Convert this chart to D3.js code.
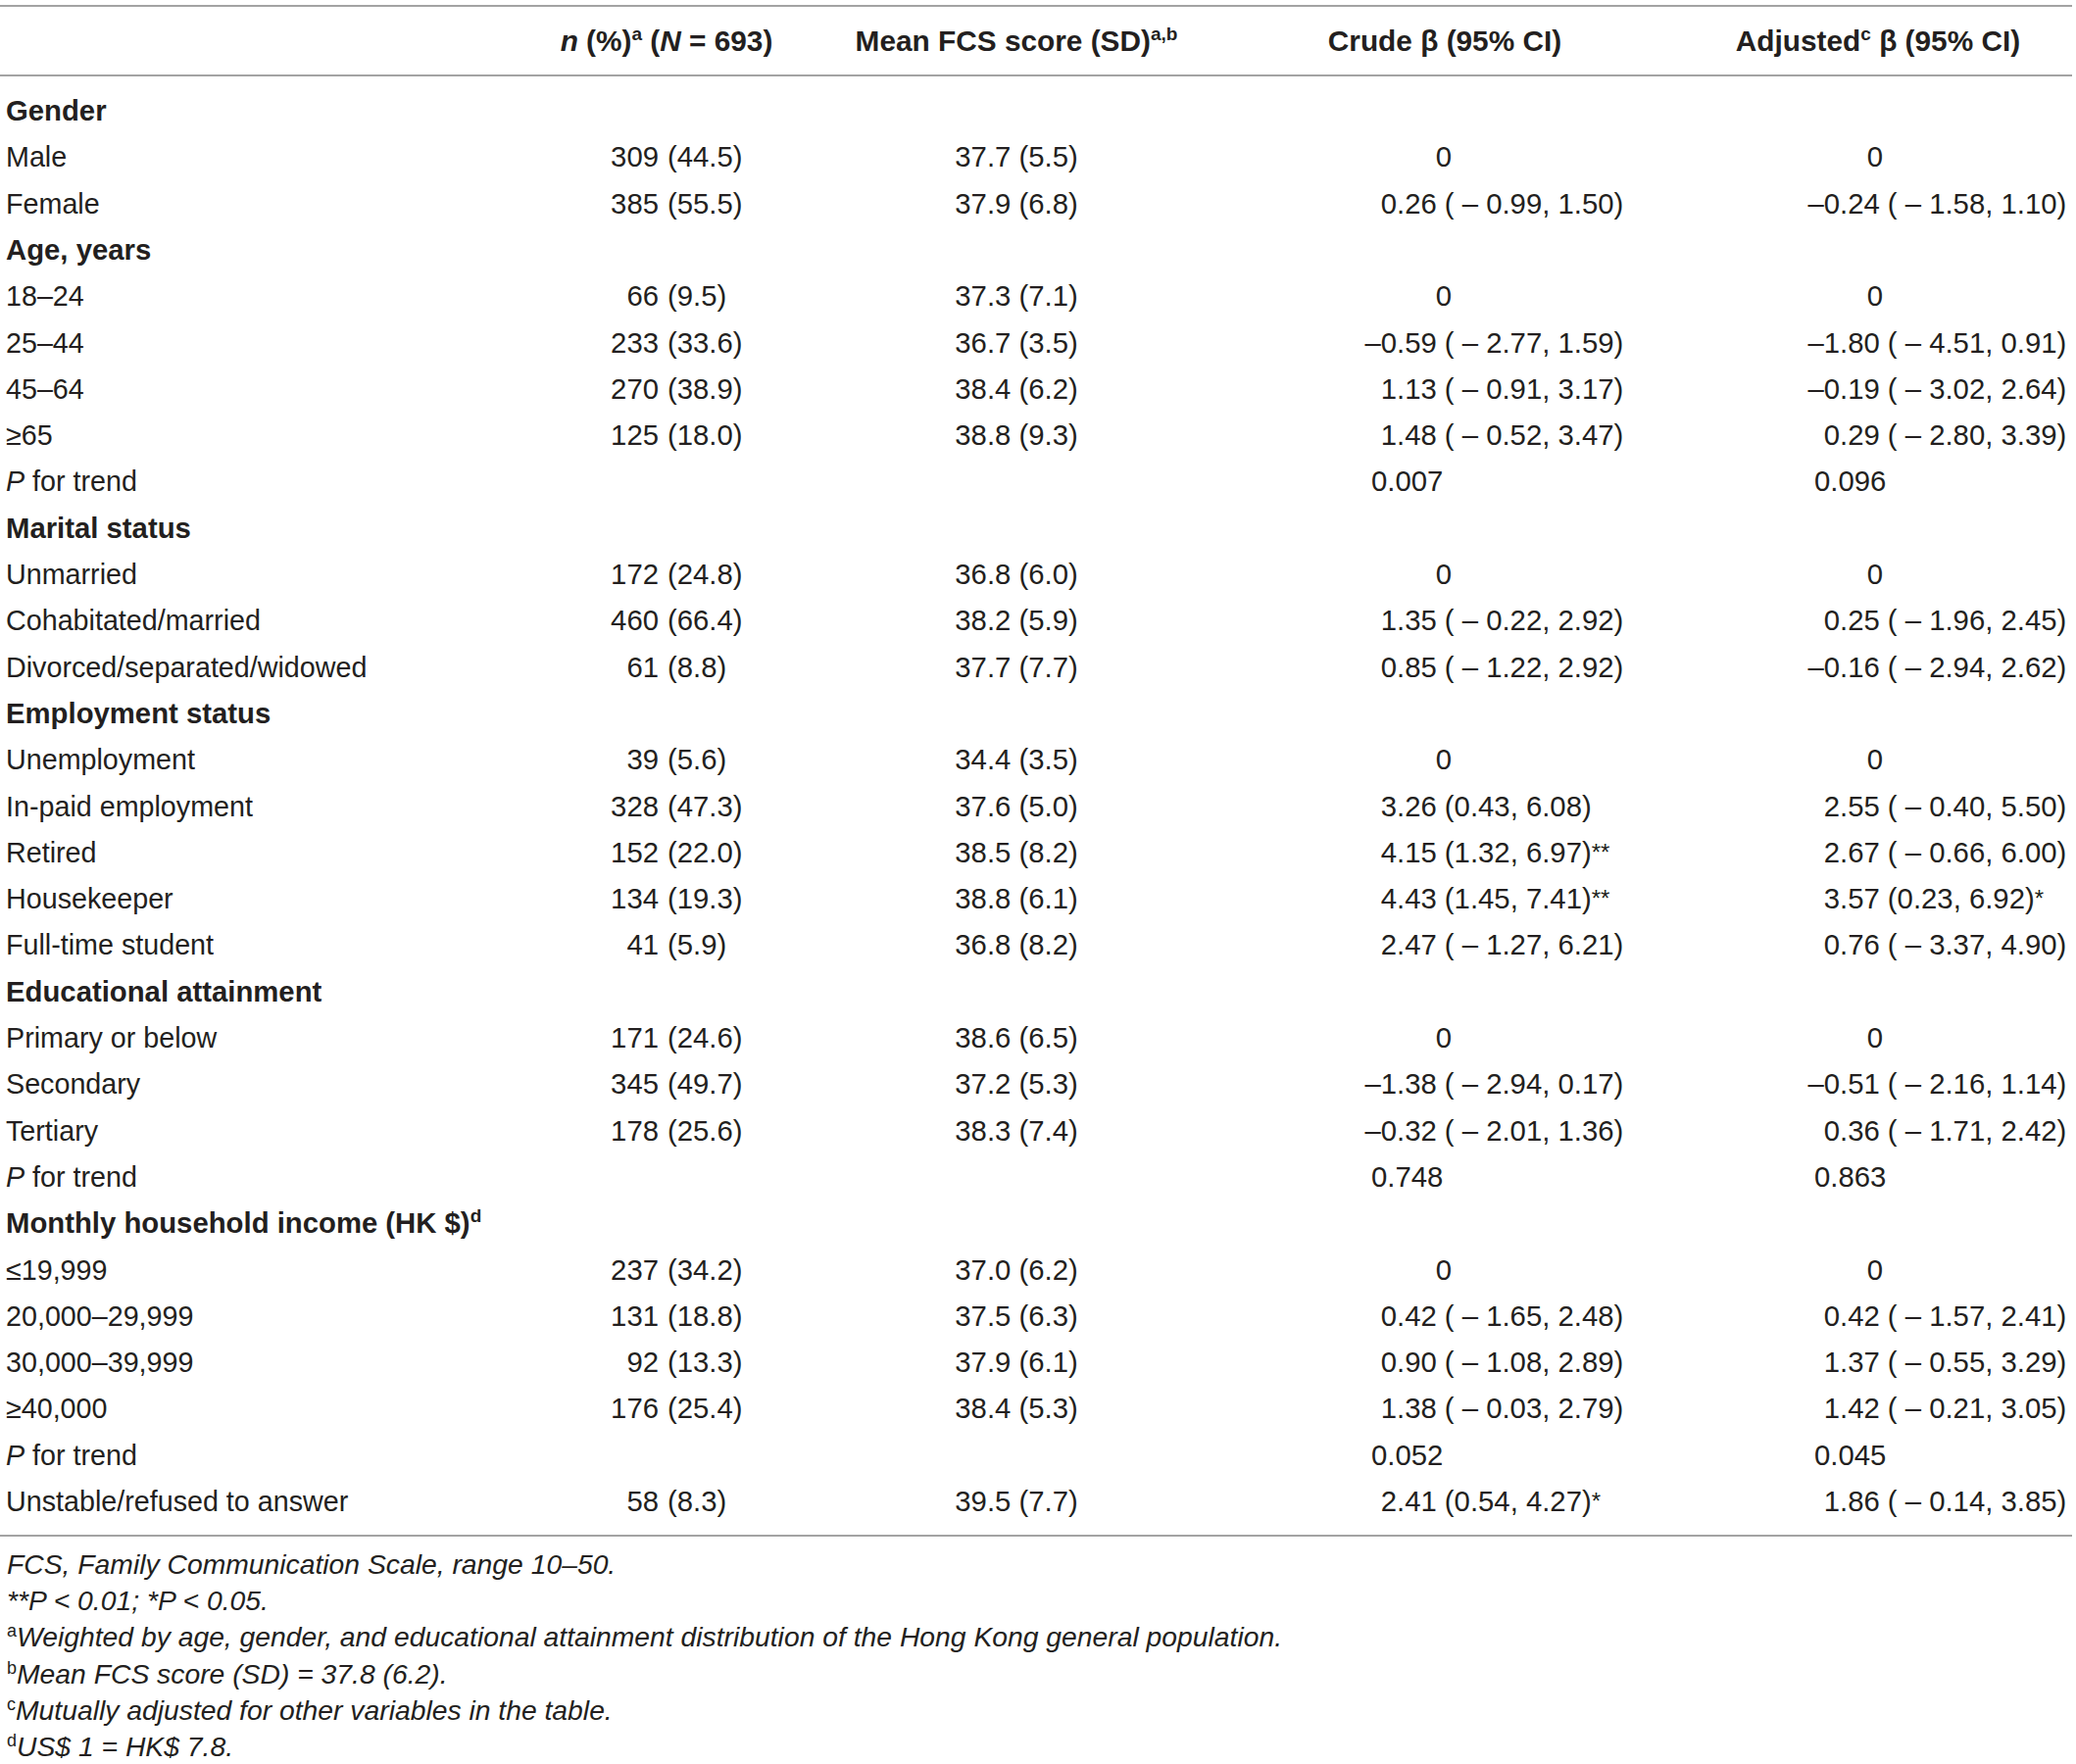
<!DOCTYPE html>
<html lang="en">
<head>
<meta charset="UTF-8">
<title>FCS score by sociodemographic characteristics</title>
<script src="https://d3js.org/d3.v7.min.js"></script>
<style>
    body { margin: 0; background: #fff; }
    svg text { font-family: "Liberation Sans", Arial, sans-serif; fill: #231f20; }
    .label { font-size: 28.7px; }
    .cell { font-size: 29.3px; }
    .bold { font-size: 29.3px; font-weight: 700; }
    .head { font-size: 29.8px; font-weight: 700; }
    .note { font-size: 28.3px; font-style: italic; }
    .rule { stroke: #a3a3a3; stroke-width: 2; }
</style>
</head>
<body>
<svg width="2118" height="1800"></svg>
<script>
    // Row labels and row kinds (s = section heading, i = item, t = P for trend)
    const rowLabels = ["Gender", "Male", "Female", "Age, years", "18–24", "25–44", "45–64", "≥65", "P for trend",
        "Marital status", "Unmarried", "Cohabitated/married", "Divorced/separated/widowed",
        "Employment status", "Unemployment", "In-paid employment", "Retired", "Housekeeper", "Full-time student",
        "Educational attainment", "Primary or below", "Secondary", "Tertiary", "P for trend",
        "Monthly household income (HK $)", "≤19,999", "20,000–29,999", "30,000–39,999", "≥40,000", "P for trend",
        "Unstable/refused to answer"];
    const rowKinds = ["s", "i", "i", "s", "i", "i", "i", "i", "t", "s", "i", "i", "i", "s", "i", "i", "i", "i", "i",
        "s", "i", "i", "i", "t", "s", "i", "i", "i", "i", "t", "i"];
    const labelNotes = { "Monthly household income (HK $)": "d" };

    // Item rows, in order
    const nCount = [309, 385, 66, 233, 270, 125, 172, 460, 61, 39, 328, 152, 134, 41, 171, 345, 178, 237, 131, 92, 176, 58];
    const nPct = [44.5, 55.5, 9.5, 33.6, 38.9, 18.0, 24.8, 66.4, 8.8, 5.6, 47.3, 22.0, 19.3, 5.9, 24.6, 49.7, 25.6, 34.2, 18.8, 13.3, 25.4, 8.3];
    const fcsMean = [37.7, 37.9, 37.3, 36.7, 38.4, 38.8, 36.8, 38.2, 37.7, 34.4, 37.6, 38.5, 38.8, 36.8, 38.6, 37.2, 38.3, 37.0, 37.5, 37.9, 38.4, 39.5];
    const fcsSD = [5.5, 6.8, 7.1, 3.5, 6.2, 9.3, 6.0, 5.9, 7.7, 3.5, 5.0, 8.2, 6.1, 8.2, 6.5, 5.3, 7.4, 6.2, 6.3, 6.1, 5.3, 7.7];

    // null lower bound = reference category
    const crudeB = [0, 0.26, 0, -0.59, 1.13, 1.48, 0, 1.35, 0.85, 0, 3.26, 4.15, 4.43, 2.47, 0, -1.38, -0.32, 0, 0.42, 0.90, 1.38, 2.41];
    const crudeLo = [null, -0.99, null, -2.77, -0.91, -0.52, null, -0.22, -1.22, null, 0.43, 1.32, 1.45, -1.27, null, -2.94, -2.01, null, -1.65, -1.08, -0.03, 0.54];
    const crudeHi = [null, 1.50, null, 1.59, 3.17, 3.47, null, 2.92, 2.92, null, 6.08, 6.97, 7.41, 6.21, null, 0.17, 1.36, null, 2.48, 2.89, 2.79, 4.27];
    const crudeSig = ["", "", "", "", "", "", "", "", "", "", "", "**", "**", "", "", "", "", "", "", "", "", "*"];

    const adjB = [0, -0.24, 0, -1.80, -0.19, 0.29, 0, 0.25, -0.16, 0, 2.55, 2.67, 3.57, 0.76, 0, -0.51, 0.36, 0, 0.42, 1.37, 1.42, 1.86];
    const adjLo = [null, -1.58, null, -4.51, -3.02, -2.80, null, -1.96, -2.94, null, -0.40, -0.66, 0.23, -3.37, null, -2.16, -1.71, null, -1.57, -0.55, -0.21, -0.14];
    const adjHi = [null, 1.10, null, 0.91, 2.64, 3.39, null, 2.45, 2.62, null, 5.50, 6.00, 6.92, 4.90, null, 1.14, 2.42, null, 2.41, 3.29, 3.05, 3.85];
    const adjSig = ["", "", "", "", "", "", "", "", "", "", "", "", "*", "", "", "", "", "", "", "", "", ""];

    // P for trend rows
    const trendCrude = [0.007, 0.748, 0.052];
    const trendAdj = [0.096, 0.863, 0.045];

    const footnotes = [
        { sup: "", text: "FCS, Family Communication Scale, range 10–50." },
        { sup: "", text: "**P < 0.01; *P < 0.05." },
        { sup: "a", text: "Weighted by age, gender, and educational attainment distribution of the Hong Kong general population." },
        { sup: "b", text: "Mean FCS score (SD) = 37.8 (6.2)." },
        { sup: "c", text: "Mutually adjusted for other variables in the table." },
        { sup: "d", text: "US$ 1 = HK$ 7.8." }
    ];

    const svg = d3.select("svg");
    const W = +svg.attr("width");

    // Row baselines and column anchors
    const y = d3.scalePoint().domain(d3.range(rowLabels.length)).range([123, 1542]);
    const headX = d3.scaleOrdinal().domain(["n", "mean", "crude", "adj"]).range([680, 1037, 1474, 1916]);
    const decX = d3.scaleOrdinal().domain(["crude", "adj"]).range([1425, 1877]);
    const refX = d3.scaleOrdinal().domain(["crude", "adj"]).range([1473, 1913]);
    const trendX = d3.scaleOrdinal().domain(["crude", "adj"]).range([1399, 1851]);
    const labelX = 6, parenX = 681;
    const noteY = d3.scaleLinear().domain([0, 5]).range([1606, 1792]);

    // rules
    [6, 77, 1567].forEach(v => {
        svg.append("line").attr("class", "rule")
            .attr("x1", 0).attr("x2", W - 4).attr("y1", v).attr("y2", v);
    });

    // rich text: parts = [{t, i (italic), sup}]
    function rich(sel, parts, supSize, supDy) {
        let raised = false;
        parts.forEach(p => {
            const ts = sel.append("tspan").text(p.t);
            if (p.i) ts.attr("font-style", "italic");
            if (p.sup && !raised) { ts.attr("font-size", supSize).attr("dy", -supDy); raised = true; }
            else if (!p.sup && raised) { ts.attr("dy", supDy); raised = false; }
            else if (p.sup) ts.attr("font-size", supSize);
        });
        return sel;
    }

    // header
    const headers = {
        n: [{ t: "n", i: true }, { t: " (%)" }, { t: "a", sup: true }, { t: " (" }, { t: "N", i: true }, { t: " = 693)" }],
        mean: [{ t: "Mean FCS score (SD)" }, { t: "a,b", sup: true }],
        crude: [{ t: "Crude β (95% CI)" }],
        adj: [{ t: "Adjusted" }, { t: "c", sup: true }, { t: " β (95% CI)" }]
    };
    Object.keys(headers).forEach(k => {
        rich(svg.append("text").attr("class", "head")
            .attr("x", headX(k)).attr("y", 52).attr("text-anchor", "middle"), headers[k], 19, 11);
    });

    const measure = svg.append("text").attr("class", "cell").attr("opacity", 0);
    const textWidth = s => measure.text(s).node().getComputedTextLength();

    const num = v => (v < 0 ? "–" : "") + d3.format(".2f")(Math.abs(v));
    const ciNum = v => (v < 0 ? " – " : "") + d3.format(".2f")(Math.abs(v));

    function betaCell(col, b, lo, hi, sig, yy) {
        if (lo === null) {
            svg.append("text").attr("class", "cell").attr("x", refX(col)).attr("y", yy)
                .attr("text-anchor", "middle").text(d3.format("d")(b));
            return;
        }
        const main = `${num(b)} (${ciNum(lo)}, ${ciNum(hi)})`;
        const prefix = main.slice(0, main.indexOf("."));
        const t = svg.append("text").attr("class", "cell")
            .attr("x", decX(col) - textWidth(prefix)).attr("y", yy);
        t.append("tspan").text(main);
        if (sig) t.append("tspan").attr("font-size", 24).attr("dy", -2).text(sig);
    }

    let item = 0, trend = 0;
    rowLabels.forEach((label, r) => {
        const yy = y(r);
        const kind = rowKinds[r];
        if (kind === "s") {
            const parts = [{ t: label }];
            if (labelNotes[label]) parts.push({ t: labelNotes[label], sup: true });
            rich(svg.append("text").attr("class", "bold").attr("x", labelX).attr("y", yy), parts, 19, 11);
        } else if (kind === "t") {
            rich(svg.append("text").attr("class", "label").attr("x", labelX).attr("y", yy),
                [{ t: "P", i: true }, { t: label.slice(1) }], 19, 11);
            svg.append("text").attr("class", "cell").attr("x", trendX("crude")).attr("y", yy)
                .text(d3.format(".3f")(trendCrude[trend]));
            svg.append("text").attr("class", "cell").attr("x", trendX("adj")).attr("y", yy)
                .text(d3.format(".3f")(trendAdj[trend]));
            trend++;
        } else {
            svg.append("text").attr("class", "label").attr("x", labelX).attr("y", yy).text(label);
            svg.append("text").attr("class", "cell").attr("x", parenX - 9).attr("y", yy)
                .attr("text-anchor", "end").text(nCount[item]);
            svg.append("text").attr("class", "cell").attr("x", parenX).attr("y", yy)
                .text(`(${d3.format(".1f")(nPct[item])})`);
            svg.append("text").attr("class", "cell").attr("x", headX("mean")).attr("y", yy)
                .attr("text-anchor", "middle")
                .text(`${d3.format(".1f")(fcsMean[item])} (${d3.format(".1f")(fcsSD[item])})`);
            betaCell("crude", crudeB[item], crudeLo[item], crudeHi[item], crudeSig[item], yy);
            betaCell("adj", adjB[item], adjLo[item], adjHi[item], adjSig[item], yy);
            item++;
        }
    });
    measure.remove();

    // footnotes
    footnotes.forEach((f, i) => {
        const t = svg.append("text").attr("class", "note").attr("x", 7).attr("y", noteY(i));
        if (f.sup) {
            t.append("tspan").attr("font-style", "normal").attr("font-size", 18).attr("dy", -10).text(f.sup);
            t.append("tspan").attr("dy", 10).text(f.text);
        } else {
            t.text(f.text);
        }
    });
</script>
</body>
</html>
